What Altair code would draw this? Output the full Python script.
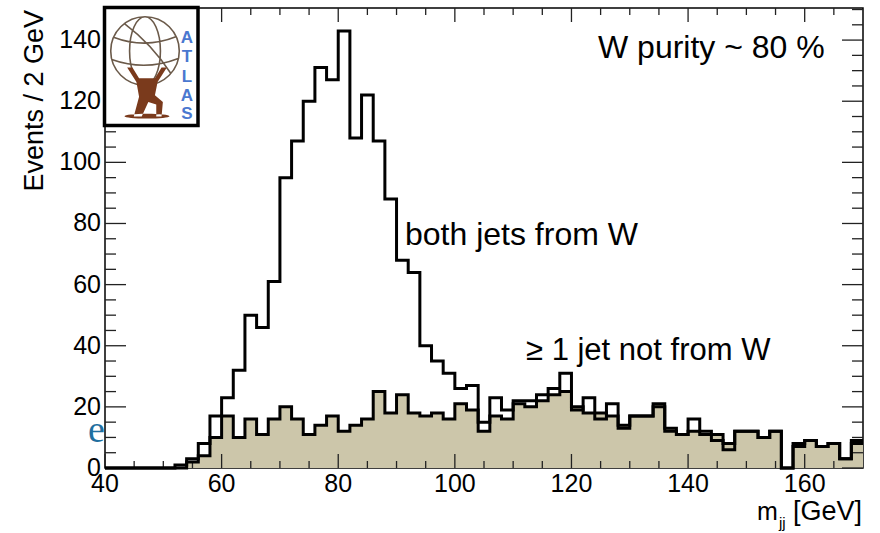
import altair as alt
import pandas as pd

# ---------------- data ----------------
bin_low = list(range(40, 170, 2))  # 2 GeV bins from 40 to 170
both_w = [0, 0, 0, 0, 0, 0, 1, 3, 8, 17,
          23, 32, 50, 46, 61, 95, 107, 120, 131, 127,
          143, 108, 122, 107, 88, 68, 64, 40, 35, 31,
          26, 27, 15, 23, 19, 22, 22, 24, 26, 31,
          19, 23, 16, 21, 13, 17, 17, 20, 12, 11,
          16, 12, 9, 6, 12, 12, 10, 12, 0, 7,
          9, 7, 8, 3, 8]
not_w = [0, 0, 0, 0, 0, 0, 0, 2, 4, 10,
         17, 10, 16, 11, 16, 20, 16, 11, 14, 17,
         12, 14, 16, 25, 18, 24, 18, 17, 18, 16,
         21, 19, 12, 17, 16, 21, 20, 22, 24, 25,
         20, 18, 18, 17, 14, 17, 17, 21, 13, 11,
         12, 11, 11, 8, 12, 12, 10, 12, 0, 8,
         9, 7, 8, 3, 9]
x_end = 170
x_major = [40, 60, 80, 100, 120, 140, 160]
x_minor = [45, 50, 55, 65, 70, 75, 85, 90, 95, 105, 110, 115, 125, 130, 135,
           145, 150, 155, 165]
y_major = [0, 20, 40, 60, 80, 100, 120, 140]
y_minor = [5, 10, 15, 25, 30, 35, 45, 50, 55, 65, 70, 75, 85, 90, 95,
           105, 110, 115, 125, 130, 135, 145, 150]
atlas_letters = ["A", "T", "L", "A", "S"]

# ---------------- layout ----------------
W, H = 758, 460
FONT = "Liberation Sans, Arial, Helvetica, sans-serif"

hist = pd.DataFrame({
    "x": bin_low + [x_end],
    "both": both_w + [both_w[-1]],
    "notw": not_w + [not_w[-1]],
})

xs = alt.Scale(domain=[40, 170], nice=False, zero=False)
ys = alt.Scale(domain=[0, 150.5], nice=False, zero=True)

fill_area = alt.Chart(hist).mark_area(interpolate="step-after", color="#CCC6AA").encode(
    x=alt.X("x:Q", scale=xs, axis=None),
    y=alt.Y("notw:Q", scale=ys, axis=None),
)
notw_line = alt.Chart(hist).mark_line(interpolate="step-after", color="black",
                                      strokeWidth=3, strokeJoin="miter").encode(
    x=alt.X("x:Q", scale=xs, axis=None),
    y=alt.Y("notw:Q", scale=ys, axis=None),
)
both_line = alt.Chart(hist).mark_line(interpolate="step-after", color="black",
                                      strokeWidth=3, strokeJoin="miter").encode(
    x=alt.X("x:Q", scale=xs, axis=None),
    y=alt.Y("both:Q", scale=ys, axis=None),
)


def xticks(vals, length):
    d = pd.DataFrame({"v": vals})
    bot = alt.Chart(d).mark_rule(color="#222", strokeWidth=1.3).encode(
        x=alt.X("v:Q", scale=xs, axis=None), y=alt.value(H), y2=alt.value(H - length))
    top = alt.Chart(d).mark_rule(color="#222", strokeWidth=1.3).encode(
        x=alt.X("v:Q", scale=xs, axis=None), y=alt.value(0), y2=alt.value(length))
    return [bot, top]


def yticks(vals, length):
    d = pd.DataFrame({"v": vals})
    left = alt.Chart(d).mark_rule(color="#222", strokeWidth=1.3).encode(
        y=alt.Y("v:Q", scale=ys, axis=None), x=alt.value(0), x2=alt.value(length))
    right = alt.Chart(d).mark_rule(color="#222", strokeWidth=1.3).encode(
        y=alt.Y("v:Q", scale=ys, axis=None), x=alt.value(W), x2=alt.value(W - length))
    return [left, right]


ticks = xticks(x_major, 14) + xticks(x_minor, 7) + yticks(y_major, 21) + yticks(y_minor, 11)

# tick labels, placed through the scales
x_labels = alt.Chart(pd.DataFrame({"v": x_major})).mark_text(
    fontSize=25, font=FONT, color="black", align="center", baseline="alphabetic").encode(
    x=alt.X("v:Q", scale=xs, axis=None), y=alt.value(H + 24), text=alt.Text("v:Q", format="d"))
y_labels = alt.Chart(pd.DataFrame({"v": y_major})).mark_text(
    fontSize=25, font=FONT, color="black", align="right", baseline="middle").encode(
    y=alt.Y("v:Q", scale=ys, axis=None), x=alt.value(-4), text=alt.Text("v:Q", format="d"))


def label(text, x, y, size, align="left", angle=0, font=FONT, color="black", weight="normal"):
    kw = dict(align=align, baseline="alphabetic", fontSize=size, font=font,
              color=color, fontWeight=weight)
    if angle:
        kw["angle"] = angle
    return alt.Chart(pd.DataFrame({"t": [text]})).mark_text(**kw).encode(
        text="t:N", x=alt.value(x), y=alt.value(y))


texts = [
    label("W purity ~ 80 %", 493, 50, 32),
    label("both jets from W", 300, 237, 32),
    label("\u2265 1 jet not from W", 421, 352, 31),
    label("Events / 2 GeV", -62, 2, 27, align="right", angle=270),
    label("[GeV]", 757, 512, 27, align="right"),
    label("m", 652, 512, 25),
    label("jj", 674, 520, 15),
    label("e", -17, 434, 38, font="Liberation Serif, Times New Roman, serif", color="#1f6fa0"),
]

# ---------------- ATLAS logo (approximation) ----------------
logo_box = alt.Chart(pd.DataFrame({"a": [0]})).mark_rect(
    fill="white", stroke="black", strokeWidth=3.5).encode(
    x=alt.value(-0.5), x2=alt.value(93), y=alt.value(-0.5), y2=alt.value(117.5))

globe_path = ("M -1 0 A 1 1 0 1 1 1 0 A 1 1 0 1 1 -1 0 "
              "M 0 -1 A 0.45 1 0 1 1 0 1 A 0.45 1 0 1 1 0 -1 "
              "M -0.92 -0.4 Q 0 -0.05 0.92 -0.42 "
              "M -0.97 0.25 Q 0 0.6 0.97 0.22 "
              "M -0.6 -0.8 Q 0.2 -0.2 0.75 0.65")
globe = alt.Chart(pd.DataFrame({"a": [0]})).mark_point(
    shape=globe_path, filled=False, stroke="#6b5a4a", strokeWidth=1.6, opacity=1,
    size=4700).encode(x=alt.value(40), y=alt.value(43))

figure_path = ("M -0.75 -1 L -0.55 -1 L -0.3 -0.6 L 0.3 -0.6 L 0.55 -1 L 0.75 -1 "
               "L 0.4 -0.45 L 0.3 0.05 L 0.6 0.3 L 0.55 0.85 L 0.35 0.85 L 0.35 0.4 "
               "L 0.05 0.3 L -0.2 0.85 L -0.5 0.85 L -0.3 0.1 L -0.4 -0.45 Z "
               "M -0.85 0.84 A 0.85 0.09 0 1 0 0.85 0.84 A 0.85 0.09 0 1 0 -0.85 0.84 Z")
figure = alt.Chart(pd.DataFrame({"a": [0]})).mark_point(
    shape=figure_path, filled=True, fill="#7a3a1c", opacity=1, size=2800).encode(
    x=alt.value(42), y=alt.value(86))

letter_y = [30, 49, 69, 88, 106]
letters = [
    alt.Chart(pd.DataFrame({"t": [ch]})).mark_text(
        fontSize=17, fontWeight="bold", font=FONT, color="#4a78d0", baseline="middle",
        align="center").encode(text="t:N", x=alt.value(82), y=alt.value(yy))
    for ch, yy in zip(atlas_letters, letter_y)
]

chart = alt.layer(
    fill_area, *ticks, notw_line, both_line, x_labels, y_labels, *texts,
    logo_box, globe, figure, *letters
).properties(
    width=W, height=H,
    padding={"left": 105, "top": 8, "right": 17, "bottom": 65},
    autosize=alt.AutoSizeParams(type="none"),
    background="white",
).configure_view(stroke="black", strokeWidth=1.5)

chart.save("out.html", embed_options={"renderer": "svg", "actions": False})
